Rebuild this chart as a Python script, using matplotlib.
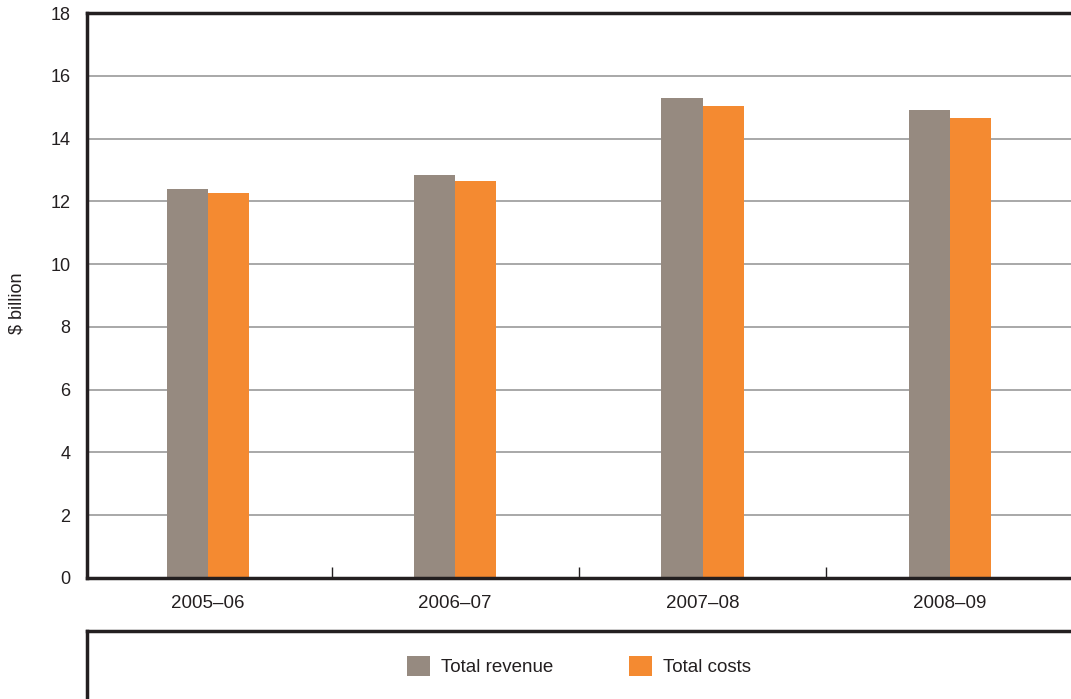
import matplotlib
matplotlib.use('Agg')
import matplotlib.pyplot as plt
import numpy as np

# data
years = ['2005–06', '2006–07', '2007–08', '2008–09']
revenue = [12.39, 12.84, 15.30, 14.92]
costs = [12.26, 12.65, 15.04, 14.66]

plt.rcParams['font.family'] = ['Liberation Sans', 'DejaVu Sans']
dark = '#231f20'
grey_bar = '#968a80'
orange = '#f48a31'

fig = plt.figure(figsize=(10.71, 6.99), dpi=100)
ax = fig.add_axes([87 / 1071, 1 - 578 / 699, 986 / 1071, 565 / 699])

x = np.arange(len(years))
w = 0.166
ax.bar(x - w / 2, revenue, w, color=grey_bar, label='Total revenue', zorder=2)
ax.bar(x + w / 2, costs, w, color=orange, label='Total costs', zorder=2)

# one category is ~247 px wide, first centre sits at x=208 px
ax.set_xlim(-0.489, 3.498)
ax.set_ylim(0, 18)
ax.set_yticks(np.arange(0, 19, 2))
ax.yaxis.grid(True, color='#9a9a9a', linewidth=1.2, zorder=0)
ax.set_axisbelow(True)

# category labels centred, tick marks on the boundaries
ax.set_xticks(x)
ax.set_xticklabels(years)
ax.tick_params(axis='x', which='major', length=0, pad=12, labelsize=13.5, labelcolor=dark)
ax.set_xticks(x[:-1] + 0.5, minor=True)
ax.tick_params(axis='x', which='minor', direction='in', length=8, width=1, color=dark)
ax.tick_params(axis='y', length=0, pad=12, labelsize=13, labelcolor=dark)

for s in ['left', 'top', 'bottom']:
    ax.spines[s].set_linewidth(2.5)
    ax.spines[s].set_color(dark)
ax.spines['right'].set_visible(False)

fig.text(17 / 1071, 1 - 303 / 699, '$ billion', rotation=90, ha='center', va='center',
         fontsize=13, color=dark)

# legend box below the chart
lax = fig.add_axes([87 / 1071, 0, 990 / 1071, (699 - 631) / 699])
lax.set_xticks([])
lax.set_yticks([])
for s in ['right', 'bottom']:
    lax.spines[s].set_visible(False)
for s in ['left', 'top']:
    lax.spines[s].set_linewidth(2.5)
    lax.spines[s].set_color(dark)

h, l = ax.get_legend_handles_labels()
fig.legend(h, l, loc='center', bbox_to_anchor=(579 / 1071, 1 - 666 / 699), ncol=2,
           frameon=False, fontsize=13.5, handlelength=1.25, handleheight=1.25,
           handletextpad=0.6, columnspacing=4.0, labelcolor=dark)

plt.savefig('out.png', dpi=100)
